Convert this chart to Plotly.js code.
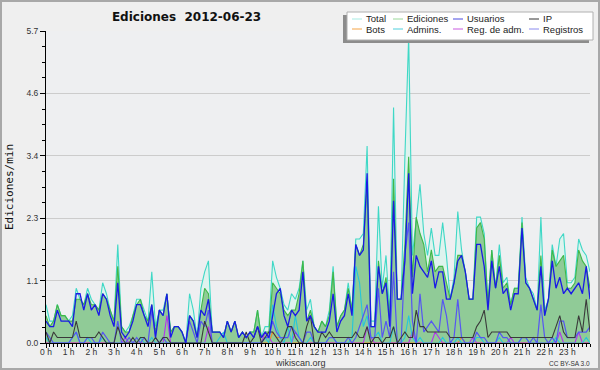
<!DOCTYPE html>
<html><head><meta charset="utf-8">
<script src="https://cdn.plot.ly/plotly-3.0.1.min.js"></script>
<style>html,body{margin:0;padding:0;background:#efefef}#chart{width:600px;height:370px}</style>
</head><body><div id="chart"></div>
<script>
// 10-minute buckets from 00:00 to 24:00 (145 points), edits per minute
const total = [
0.7,0.4,0.4,0.7,0.5,0.5,0.4,0.5,1.0,0.8,0.7,1.0,0.8,0.7,0.6,1.1,0.9,0.6,0.4,
1.8,0.3,0.2,0.3,0.5,0.8,0.8,0.6,0.4,1.3,0.3,0.6,0.6,0.9,0.2,0.3,0.3,0.2,
0.0,0.9,0.6,0.1,1.0,1.3,1.5,0.2,0.2,0.2,0.1,0.4,0.2,0.4,0.1,0.2,0.1,0.2,
0.2,0.6,0.1,0.3,0.3,1.5,1.2,1.0,0.7,0.6,0.9,0.8,1.0,1.5,0.6,0.8,0.3,0.2,
0.4,0.3,0.6,1.4,0.3,0.5,0.6,1.1,0.6,1.9,1.9,2.0,3.6,0.4,0.4,2.5,1.0,
1.6,0.5,4.3,0.8,0.8,3.4,5.6,1.6,2.3,2.9,2.0,1.6,2.1,1.6,1.6,2.2,1.6,0.8,1.2,2.4,
1.7,1.3,0.8,0.8,2.3,2.3,2.0,0.7,1.7,1.0,1.8,1.1,1.2,0.7,1.0,1.0,2.3,1.2,1.0,0.9,
0.6,2.3,0.6,0.8,1.8,1.4,1.9,2.0,1.1,1.1,1.2,1.9,1.7,1.6,1.3];
const ediciones = [
0.5,0.3,0.4,0.7,0.5,0.5,0.4,0.4,0.8,0.8,0.7,0.9,0.7,0.7,0.6,0.9,0.8,0.6,0.4,
1.4,0.3,0.2,0.2,0.5,0.7,0.8,0.5,0.4,0.7,0.2,0.6,0.5,0.9,0.2,0.3,0.3,0.2,
0.0,0.5,0.4,0.1,0.6,1.0,0.9,0.2,0.2,0.2,0.1,0.4,0.2,0.4,0.1,0.2,0.1,0.2,
0.2,0.6,0.1,0.2,0.2,1.1,1.0,0.9,0.6,0.5,0.6,0.6,0.9,1.5,0.4,0.6,0.3,0.2,
0.4,0.3,0.5,1.3,0.3,0.5,0.6,1.0,0.6,1.8,1.6,1.8,2.9,0.3,0.3,1.5,0.9,
1.2,0.4,3.0,0.8,0.8,1.8,3.4,1.2,2.3,2.0,1.8,1.3,1.7,1.3,1.4,1.4,1.1,0.8,1.1,1.6,
1.6,1.3,0.8,0.8,2.1,2.2,1.9,0.7,1.7,1.0,1.6,1.0,1.1,0.7,1.0,1.0,2.2,1.1,1.0,0.8,
0.6,1.6,0.5,0.8,1.7,1.4,1.5,1.6,1.0,1.0,1.1,1.7,1.5,1.4,1.0];
const usuarios = [
0.4,0.3,0.3,0.6,0.4,0.4,0.4,0.3,0.9,0.9,0.6,0.9,0.6,0.7,0.5,0.9,0.8,0.5,0.3,
1.1,0.2,0.1,0.2,0.4,0.7,0.7,0.5,0.3,0.7,0.1,0.6,0.5,0.9,0.1,0.3,0.3,0.2,
0.0,0.5,0.4,0.1,0.6,0.5,0.8,0.2,0.2,0.2,0.1,0.4,0.2,0.4,0.1,0.2,0.1,0.2,
0.1,0.3,0.1,0.2,0.1,0.5,0.9,1.0,0.5,0.3,0.6,0.5,0.6,1.3,0.4,0.5,0.3,0.2,
0.2,0.2,0.4,0.9,0.2,0.4,0.5,0.9,0.5,1.8,1.6,1.7,3.1,0.3,0.3,1.4,0.9,
1.1,0.3,2.6,0.8,0.8,1.5,3.1,0.9,1.6,1.4,1.3,1.2,1.5,1.0,1.3,1.3,0.8,0.8,1.1,1.5,
1.6,1.3,0.8,0.8,1.8,1.8,1.4,0.6,1.5,1.0,1.4,0.9,1.0,0.6,0.9,0.9,2.1,1.1,1.0,0.8,
0.6,1.4,0.5,0.8,1.5,1.0,1.2,0.9,1.0,0.9,1.0,1.1,0.9,1.4,0.8];
const ip = [
0.2,0.0,0.2,0.1,0.1,0.1,0.1,0.1,0.4,0.1,0.1,0.1,0.1,0.1,0.2,0.1,0.0,0.0,0.0,
0.3,0.1,0.0,0.0,0.1,0.0,0.1,0.1,0.0,0.0,0.1,0.0,0.1,0.1,0.0,0.0,0.0,0.0,
0.0,0.0,0.0,0.0,0.0,0.4,0.2,0.0,0.0,0.0,0.0,0.0,0.0,0.0,0.0,0.0,0.2,0.0,
0.1,0.3,0.0,0.1,0.2,0.2,0.1,0.0,0.1,0.3,0.3,0.1,0.0,0.0,0.3,0.5,0.0,0.0,
0.2,0.1,0.2,0.1,0.1,0.1,0.1,0.1,0.1,0.2,0.1,0.1,0.3,0.0,0.1,0.1,0.0,
0.1,0.1,0.3,0.0,0.1,0.2,0.1,0.1,0.6,0.3,0.3,0.2,0.2,0.2,0.2,0.2,0.2,0.1,0.1,0.1,
0.1,0.1,0.1,0.1,0.3,0.4,0.6,0.1,0.2,0.2,0.2,0.2,0.2,0.1,0.1,0.1,0.1,0.1,0.1,0.1,
0.1,0.1,0.1,0.1,0.1,0.3,0.5,0.2,0.1,0.1,0.1,0.5,0.2,0.8,0.2];
const admins = [
0.1,0,0,0,0,0,0,0.1,0.2,0,0,0.1,0,0,0,0.1,0,0,0,
0,0,0,0,0,0,0.1,0,0,0.1,0,0,0,0,0,0,0,0,
0,0,0,0,0,0,0,0,0,0.1,0.2,0,0,0,0,0,0,0,
0,0,0,0.1,0,0.7,0.3,0.1,0,0.3,0,0.5,0.1,0,0,0.1,0,0,
0,0,0.1,0.1,0,0,0,0,0.1,1.4,1.1,0.3,0.5,0.1,0.1,0.2,0,
0,0,0.3,0,0,0.1,0.5,0.1,0,0.1,0,0,0,0,0,0.1,0,0,0,0.1,
0,0,0,0,0.1,0.1,0,0,0,0,0.1,0,0,0,0,0,0.1,0.1,0,0,
0,0,0,0,0,0.1,0,0,0,0,0,0,0,0.1,0];
const registros = [
0.2,0.1,0,0,0,0,0,0.1,0.2,0,0,0.1,0.1,0,0,0.2,0.1,0,0,
0.4,0,0,0.1,0,0.1,0,0.1,0,0.6,0.1,0,0.1,0,0,0,0,0,
0,0.4,0.2,0,0.4,0.3,0.6,0,0,0,0,0,0,0,0,0,0,0,
0,0,0,0.1,0.1,0.4,0.2,0.1,0.1,0.1,0.3,0.2,0.1,0,0.2,0.2,0,0,
0,0,0.1,0.1,0,0,0,0.1,0,0.1,0.3,0.5,0.7,0.1,0.1,1.0,0.1,
0.4,0.1,1.3,0,0,1.6,2.2,0.4,0,0.9,0.2,0.3,0.4,0.3,0.2,0.8,0.5,0,0.1,0.8,
0.1,0,0,0,0.2,0.1,0.1,0,0,0,0.2,0.1,0.1,0,0,0,0.1,0.1,0,0.1,
0,0.7,0.1,0,0.1,0,0.4,0.4,0.1,0.1,0.1,0.2,0.2,0.2,0.3];
const regAdm = [
0,0,0,0,0,0,0,0,0,0,0,0,0,0,0,0,0,0,0,
0,0,0.1,0,0,0,0,0,0,0,0,0,0,0.5,0,0,0,0,
0,0,0,0,0,0,0.3,0,0,0,0,0,0,0,0,0,0,0,
0,0,0,0.2,0.1,0,0,0,0,0,0,0.2,0.1,0,0,0,0,0,
0,0,0,0,0,0,0,0,0,0,0,0,0.3,0.1,0,0,0,
0,0,0,0,0,0,0,0.2,0,0,0,0,0,0.2,0.1,0,0,0,0,0,
0,0,0,0.1,0,0,0,0,0,0,0,0,0,0.1,0,0,0,0,0,0,
0,0,0,0,0,0,0.2,0,0,0,0,0.2,0,0,0];
const bots = [
0,0,0,0,0,0,0,0,0,0,0,0,0,0,0,0,0,0,0,
0,0,0,0,0,0,0,0,0,0,0,0,0,0,0,0,0,0,
0,0,0,0,0,0,0,0,0,0,0,0,0,0,0,0,0,0,
0,0,0,0,0,0.2,0.1,0.1,0,0,0,0,0,0,0,0,0,0,
0,0,0,0,0,0,0,0,0,0,0,0,0,0,0,0,0,
0,0,0,0,0,0,0,0,0,0,0,0,0,0,0,0,0,0,0,0,
0.1,0,0,0,0,0,0,0,0,0,0,0,0,0,0,0,0,0,0,0,
0,0,0,0,0,0,0,0,0,0,0,0,0,0,0];

const hourTicks = [0,1,2,3,4,5,6,7,8,9,10,11,12,13,14,15,16,17,18,19,20,21,22,23];
const hourLabels = ['0 h','1 h','2 h','3 h','4 h','5 h','6 h','7 h','8 h','9 h','10 h','11 h','12 h','13 h','14 h','15 h','16 h','17 h','18 h','19 h','20 h','21 h','22 h','23 h'];
const yTickVals = [0, 1.14, 2.28, 3.42, 4.56, 5.7];
const yTickText = ['0.0','1.1','2.3','3.4','4.6','5.7'];

const legendNames = ['Total','Ediciones','Usuarios','IP','Bots','Admins.','Reg. de adm.','Registros'];
const legendColors = ['#a6ebe3','#9ad89a','#4a4ae0','#333333','#f5a447','#4fcfdc','#c95ae0','#8a8aee'];

const xs = total.map((_, i) => i / 6);

function line(name, y, color, width) {
  return {type:'scatter', mode:'lines', name, x: xs, y, line:{color, width, shape:'linear'}, hoverinfo:'skip', showlegend:false};
}

const traces = [
  Object.assign(line('Total', total, '#3fd8c6', 1.1), {fill:'tozeroy', fillcolor:'#def3ee'}),
  Object.assign(line('Ediciones', ediciones, '#3fb848', 1.1), {fill:'tozeroy', fillcolor:'rgba(80,170,80,0.55)'}),
  line('Bots', bots, '#ee8a2a', 1.1),
  line('Reg. de adm.', regAdm, '#b335ee', 1.1),
  line('Admins.', admins, '#25c6db', 1.1),
  line('Registros', registros, '#5656f2', 1.2),
  line('IP', ip, '#3a3a3a', 1.1),
  line('Usuarios', usuarios, '#1a1ae6', 1.3)
];

// pixel geometry helpers for the hand-built legend (plot area 46..590 x 31..343)
const L = 46, T = 31, W = 544, H = 312;
const px = v => (v - L) / W;
const py = v => (T + H - v) / H;

const colX = [352, 393, 453, 529];
const rowY = [19, 29];
const shapes = [
  {type:'rect', xref:'paper', yref:'paper', x0:px(1), x1:px(599), y0:py(369), y1:py(1), line:{color:'#a8a8a8', width:2}, fillcolor:'rgba(0,0,0,0)', layer:'below'},
  {type:'rect', xref:'paper', yref:'paper', x0:px(343), x1:px(589), y0:py(43), y1:py(15), line:{width:0}, fillcolor:'#8c8c8c'},
  {type:'rect', xref:'paper', yref:'paper', x0:px(347), x1:px(593), y0:py(40), y1:py(12), line:{color:'#b0b0b0', width:1}, fillcolor:'#ffffff'}
];
const annotations = [
  {xref:'paper', yref:'paper', x:px(300), y:py(363), text:'wikiscan.org', showarrow:false, xanchor:'center', yanchor:'middle', borderpad:0, font:{family:'Liberation Sans', size:9, color:'#333'}},
  {xref:'paper', yref:'paper', x:px(591), y:py(363), text:'CC BY-SA 3.0', showarrow:false, xanchor:'right', yanchor:'middle', borderpad:0, font:{family:'Liberation Sans', size:6.5, color:'#333'}}
];
legendNames.forEach((name, k) => {
  const cx = colX[k % 4], cy = rowY[Math.floor(k / 4)];
  shapes.push({type:'line', xref:'paper', yref:'paper', x0:px(cx), x1:px(cx + 10), y0:py(cy), y1:py(cy), line:{color:legendColors[k], width:1}});
  annotations.push({xref:'paper', yref:'paper', x:px(cx + 13), y:py(cy), text:name, showarrow:false, xanchor:'left', yanchor:'middle', borderpad:0, font:{family:'Liberation Sans', size:9.5, color:'#222'}});
});

const layout = {
  width:600, height:370,
  margin:{l:L, r:600 - L - W, t:T, b:370 - T - H, pad:0},
  paper_bgcolor:'#efefef', plot_bgcolor:'#eeeff1',
  showlegend:false,
  title:{text:'Ediciones\u00a0 2012-06-23', x:155/600, xanchor:'center', xref:'paper', yref:'container', y:1 - 17/370, yanchor:'middle', font:{family:'DejaVu Sans', size:12, weight:'bold', color:'#111'}},
  xaxis:{range:[0,24], tickmode:'array', tickvals:hourTicks, ticktext:hourLabels, ticks:'outside', ticklen:4, tickcolor:'#000', tickwidth:1,
    showline:true, linecolor:'#000', linewidth:1, showgrid:false, zeroline:false, fixedrange:true, ticklabelstandoff:-3,
    tickfont:{family:'Liberation Sans', size:8.5, color:'#333'},
    minor:{tickmode:'linear', tick0:0, dtick:1/6, ticks:'outside', ticklen:3, tickcolor:'#000', tickwidth:1, showgrid:false}},
  yaxis:{range:[0,5.7], tickmode:'array', tickvals:yTickVals, ticktext:yTickText, ticks:'outside', ticklen:5, tickcolor:'#000', tickwidth:1,
    showline:true, linecolor:'#000', linewidth:1, showgrid:true, gridcolor:'#cccccc', gridwidth:1, zeroline:false, fixedrange:true,
    tickfont:{family:'Liberation Sans', size:8.5, color:'#333'},
    title:{text:'Ediciones/min', standoff:10, font:{family:'DejaVu Sans Mono', size:11, color:'#111'}},
    minor:{tickmode:'linear', tick0:0, dtick:0.285, ticks:'outside', ticklen:3, tickcolor:'#000', tickwidth:1, showgrid:false}},
  shapes, annotations
};

Plotly.newPlot('chart', traces, layout, {staticPlot:true, displayModeBar:false});
</script></body></html>
